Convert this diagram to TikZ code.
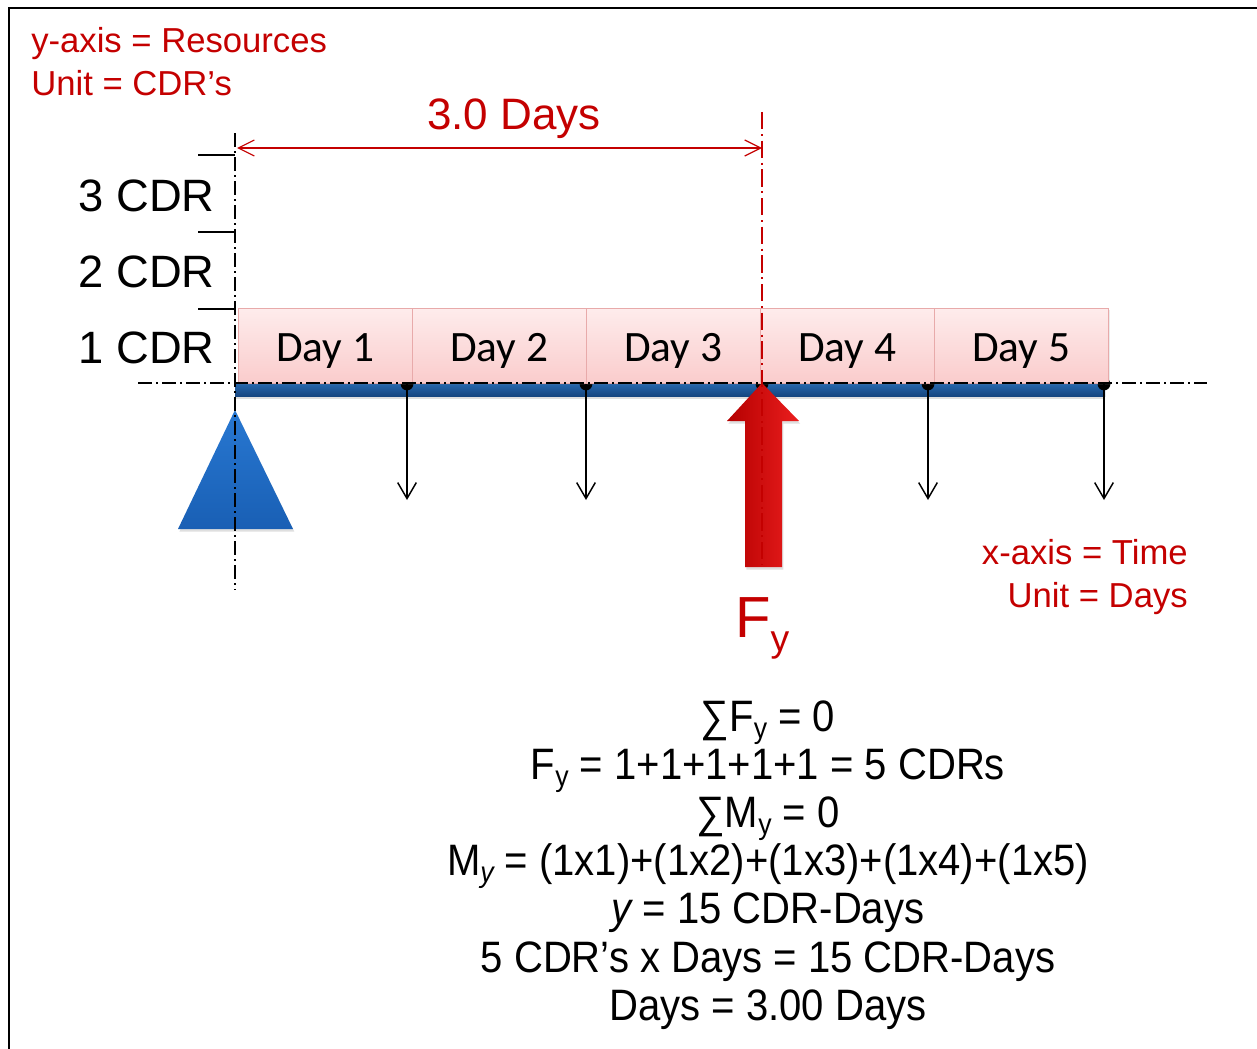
\documentclass[tikz,border=0pt]{standalone}
\usepackage{fontspec}
\setmainfont{Liberation Sans}
\newfontfamily\dayfont{Carlito}
\newfontfamily\eqfont{Liberation Sans}[FakeStretch=0.91]
\usetikzlibrary{arrows.meta,shadows}
\definecolor{redtxt}{RGB}{196,0,0}
\definecolor{boxtop}{RGB}{254,236,236}
\definecolor{boxbot}{RGB}{250,204,204}
\definecolor{boxedge}{RGB}{232,170,170}
\definecolor{beamtop}{RGB}{40,105,175}
\definecolor{beambot}{RGB}{22,70,128}
\definecolor{tritop}{RGB}{40,120,210}
\definecolor{tribot}{RGB}{25,95,180}
\definecolor{arrl}{RGB}{180,0,0}
\definecolor{arrr}{RGB}{235,30,30}
\newcommand\eqsub[1]{\raisebox{-5.5pt}{\fontsize{22}{22}\selectfont #1}}
\tikzset{
  frameline/.style={line width=2.2pt, black},
  redlabel/.style={text=redtxt, font=\fontsize{26}{30}\selectfont, inner sep=0pt},
  cdrlabel/.style={font=\fontsize{34}{38}\selectfont, inner sep=0pt, anchor=base east},
  daybox/.style={draw=boxedge, line width=0.6pt, top color=boxtop, bottom color=boxbot,
     minimum width=130.5pt, minimum height=56.25pt, inner sep=0pt,
     text height=24.6pt, text depth=0pt,
     font=\dayfont\fontsize{32.5}{36}\selectfont},
  eqline/.style={font=\eqfont\fontsize{33}{36}\selectfont, inner sep=0pt, anchor=base},
  centerline/.style={line width=1.1pt, black, dash pattern=on 10.5pt off 3pt on 1.5pt off 3pt},
  redcenter/.style={line width=0.9pt, redtxt, dash pattern=on 13pt off 3.5pt on 1.5pt off 3.5pt},
  tickline/.style={line width=1.1pt, black},
  loadarrow/.style={line width=1.1pt, black, -{Straight Barb[length=12pt, width=14pt, line width=1.1pt]}},
  dimarrow/.style={line width=0.9pt, redtxt, {Straight Barb[length=12pt, width=12pt, line width=0.9pt]}-{Straight Barb[length=12pt, width=12pt, line width=0.9pt]}},
}
\begin{document}
\begin{tikzpicture}[x=0.75pt, y=-0.75pt]
\useasboundingbox (0,0) rectangle (1257,1049);
% frame
\draw[frameline] (9,1049) -- (9,8) -- (1257,8);

% top-left labels
\node[redlabel, anchor=base west] (ylab) at (31,53) {y-axis = Resources};
\node[redlabel, anchor=base west] (yunit) at (31,96) {Unit = CDR’s};

% y-axis scale
\node[cdrlabel] (c3) at (215,211) {3 CDR};
\node[cdrlabel] (c2) at (215,287) {2 CDR};
\node[cdrlabel] (c1) at (215,363) {1 CDR};
\draw[tickline] (198,155) -- (235,155);
\draw[tickline] (198,232) -- (235,232);
\draw[tickline] (198,309) -- (235,309);

% beam
\shade[top color=beamtop, bottom color=beambot, drop shadow={opacity=0.25, shadow xshift=0pt, shadow yshift=-2pt}] (235,383) rectangle (1105,396);

% joint dots
\foreach \xx/\nm in {407/p1,586/p2,762/p3,928/p4,1104/p5}{
  \coordinate (\nm) at (\xx,384);
  \fill[black] (\nm) circle (4.8pt);
}

% day boxes
\node[daybox, drop shadow={opacity=0.15, shadow xshift=1.5pt, shadow yshift=-1.5pt}] (d1) at (325,345.5) {Day 1};
\node[daybox, drop shadow={opacity=0.15, shadow xshift=1.5pt, shadow yshift=-1.5pt}] (d2) at (499,345.5) {Day 2};
\node[daybox, drop shadow={opacity=0.15, shadow xshift=1.5pt, shadow yshift=-1.5pt}] (d3) at (673,345.5) {Day 3};
\node[daybox, drop shadow={opacity=0.15, shadow xshift=1.5pt, shadow yshift=-1.5pt}] (d4) at (847,345.5) {Day 4};
\node[daybox, drop shadow={opacity=0.15, shadow xshift=1.5pt, shadow yshift=-1.5pt}] (d5) at (1021,345.5) {Day 5};

% horizontal centre line
\draw[centerline] (138,383) -- (1207,383);

% downward loads
\coordinate (q1) at (407,500);
\coordinate (q2) at (586,500);
\coordinate (q4) at (928,500);
\coordinate (q5) at (1104,500);
\draw[loadarrow] (p1) -- (q1);
\draw[loadarrow] (p2) -- (q2);
\draw[loadarrow] (p4) -- (q4);
\draw[loadarrow] (p5) -- (q5);

% support triangle
\shade[top color=tritop, bottom color=tribot, drop shadow={opacity=0.25, shadow xshift=1pt, shadow yshift=-2pt}] (235,410) -- (293,529) -- (178,529) -- cycle;

% vertical black centre line
\draw[centerline] (235,133) -- (235,590);

% red reaction arrow
\shade[left color=arrl, right color=arrr, drop shadow={opacity=0.25, shadow xshift=1pt, shadow yshift=-2pt}]
  (762,383) -- (799,421) -- (782,421) -- (782,567) -- (745,567) -- (745,421) -- (727,421) -- cycle;

% red centre line
\draw[redcenter] (762,112) -- (762,565);

% dimension
\coordinate (da) at (237,148);
\coordinate (db) at (762,148);
\draw[dimarrow] (da) -- (db);
\node[text=redtxt, font=\fontsize{33}{36}\selectfont, inner sep=0pt, anchor=base] (dim) at (514,129) {3.0 Days};

% F_y label
\node[text=redtxt, font=\fontsize{43.5}{46}\selectfont, inner sep=0pt, anchor=base west] (fy) at (735,637) {F\raisebox{-11pt}{\fontsize{28}{30}\selectfont y}};

% x-axis labels
\node[redlabel, anchor=base east] (xlab) at (1188,564) {x-axis = Time};
\node[redlabel, anchor=base east] (xunit) at (1188,607) {Unit = Days};

% equations
\node[eqline] (e1) at (768,731) {∑F\eqsub{y} = 0};
\node[eqline] (e2) at (768,779) {F\eqsub{y} = 1+1+1+1+1 = 5 CDRs};
\node[eqline] (e3) at (768,827) {∑M\eqsub{y} = 0};
\node[eqline] (e4) at (768,875) {M\eqsub{\itshape y} = (1x1)+(1x2)+(1x3)+(1x4)+(1x5)};
\node[eqline] (e5) at (768,923) {{\itshape y} = 15 CDR-Days};
\node[eqline] (e6) at (768,972) {5 CDR’s x Days = 15 CDR-Days};
\node[eqline] (e7) at (768,1020) {Days = 3.00 Days};
\end{tikzpicture}
\end{document}
